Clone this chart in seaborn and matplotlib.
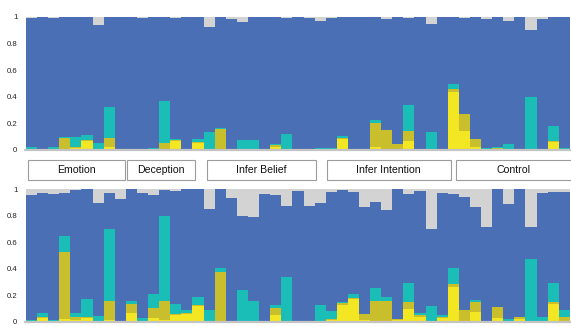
import numpy as np
import matplotlib
matplotlib.use("Agg")
import matplotlib.pyplot as plt
import seaborn as sns
from matplotlib.patches import Rectangle

sns.set_style("white")
plt.rcParams["font.family"] = ["Liberation Sans", "DejaVu Sans"]

# Trial index along the x axis
trials = list(range(49))

# Upper panel: share of each response class per trial
top_yellow = [0, 0, 0, 0.005, 0.017, 0.068, 0, 0.025, 0, 0, 0, 0, 0.005, 0.068, 0.004, 0.055, 0, 0, 0, 0,
              0, 0, 0.025, 0, 0, 0, 0, 0.005, 0.08, 0, 0, 0.025, 0.006, 0, 0.069, 0, 0, 0, 0.438, 0.143,
              0.025, 0, 0.008, 0, 0, 0, 0, 0.062, 0]
top_olive = [0, 0, 0, 0.085, 0.003, 0.007, 0, 0.067, 0, 0, 0, 0.008, 0.048, 0.004, 0.006, 0.005, 0, 0.16, 0, 0,
             0, 0, 0.01, 0, 0, 0, 0, 0.003, 0.012, 0, 0.005, 0.18, 0.144, 0.043, 0.074, 0, 0, 0, 0.02, 0.125,
             0.055, 0, 0.009, 0, 0, 0, 0, 0.006, 0.008]
top_teal = [0.025, 0.003, 0.025, 0.007, 0.075, 0.04, 0.05, 0.228, 0.005, 0.005, 0.005, 0.007, 0.315, 0.008, 0, 0.02,
            0.135, 0.003, 0.005, 0.072, 0.072, 0.003, 0.01, 0.118, 0.003, 0.005, 0.014, 0.006, 0.013, 0, 0, 0.02,
            0, 0, 0.195, 0, 0.133, 0, 0.036, 0, 0, 0.015, 0.005, 0.045, 0, 0.40, 0.005, 0.112, 0.007]
top_gray = [0.012, 0, 0.012, 0, 0, 0, 0.062, 0, 0, 0, 0.012, 0, 0, 0.012, 0, 0, 0.075, 0, 0.02, 0.04,
            0, 0, 0, 0.012, 0, 0.012, 0.03, 0.012, 0, 0, 0, 0, 0.02, 0, 0.012, 0, 0.055, 0, 0, 0.012,
            0, 0.02, 0, 0.03, 0, 0.10, 0.015, 0, 0]

# Lower panel
bot_yellow = [0, 0.03, 0, 0.018, 0.013, 0.03, 0, 0.013, 0, 0.063, 0, 0.03, 0.013, 0.053, 0.06, 0.119, 0, 0, 0, 0,
              0, 0, 0.05, 0, 0, 0, 0, 0.013, 0.126, 0.171, 0.013, 0, 0, 0.01, 0.094, 0.038, 0, 0.025, 0.26, 0,
              0.071, 0, 0.025, 0, 0.018, 0, 0, 0.131, 0]
bot_olive = [0, 0.005, 0, 0.511, 0.025, 0.003, 0, 0.146, 0, 0.068, 0, 0.076, 0.143, 0.003, 0.003, 0.006, 0, 0.378, 0, 0,
             0, 0, 0.051, 0, 0, 0, 0, 0.005, 0.019, 0.01, 0.045, 0.156, 0.156, 0.008, 0.057, 0.012, 0, 0.013, 0.022, 0.088,
             0.075, 0, 0.083, 0, 0.02, 0, 0, 0.02, 0.038]
bot_teal = [0.013, 0.028, 0.013, 0.118, 0.025, 0.141, 0.043, 0.539, 0.006, 0.025, 0.03, 0.101, 0.642, 0.075, 0.025, 0.065,
            0.088, 0.03, 0.003, 0.239, 0.156, 0.005, 0.025, 0.34, 0.004, 0, 0.126, 0.063, 0.006, 0.026, 0, 0.101,
            0.034, 0, 0.139, 0.018, 0.121, 0.012, 0.126, 0, 0.018, 0.006, 0.005, 0.02, 0, 0.476, 0.038, 0.139, 0.05]
bot_gray = [0.043, 0.025, 0.035, 0.025, 0.005, 0, 0.10, 0.03, 0.076, 0, 0.03, 0.043, 0.005, 0.013, 0, 0, 0.151, 0, 0.068, 0.199,
            0.207, 0.035, 0.043, 0.124, 0.01, 0.124, 0.10, 0.018, 0.003, 0.018, 0.131, 0.098, 0.156, 0, 0.038, 0.013, 0.302, 0.03, 0.035, 0.056,
            0.131, 0.282, 0, 0.113, 0, 0.282, 0.03, 0.018, 0.02]

categories = ["Emotion", "Deception", "Infer Belief", "Infer Intention", "Control"]
# Pixel spans (left, right) of the category boxes
category_spans = [(28.5, 124.5), (127, 194.5), (207, 316), (326.5, 450.5), (456, 575)]

ytick_vals = [0, 0.2, 0.4, 0.6, 0.8, 1]
ytick_labels = ["0", "0.2", "0.4", "0.6", "0.8", "1"]

C_YELLOW = "#F3E622"
C_OLIVE = "#C9BE2C"
C_TEAL = "#1BBDB7"
C_BLUE = "#4A6FB5"
C_GRAY = "#D3D3D3"

W, H = 571, 326
fig = plt.figure(figsize=(W / 100, H / 100), dpi=100)


def panel(y_top_px, y_zero_px):
    left = 25 / W
    return fig.add_axes([left, (H - y_zero_px) / H, 1 - left, (y_zero_px - y_top_px) / H])


def draw_stack(ax, yellow, olive, teal, gray):
    yellow = np.array(yellow)
    olive = np.array(olive)
    teal = np.array(teal)
    gray = np.array(gray)
    c1 = yellow
    c2 = c1 + olive
    c3 = c2 + teal
    c4 = 1 - gray  # blue fills up to where the gray share begins
    c5 = np.ones_like(yellow)
    # Tallest cumulative layer first, each next one drawn over it
    for cum, col in [(c5, C_GRAY), (c4, C_BLUE), (c3, C_TEAL), (c2, C_OLIVE), (c1, C_YELLOW)]:
        sns.barplot(x=trials, y=cum, color=col, saturation=1, width=1.0, errorbar=None,
                    linewidth=0, edgecolor="none", ax=ax)
    ax.set_xlim((25 - 31.55) / 11.1, (571 - 31.55) / 11.1)
    ax.set_ylim(0, 1)
    ax.axhline(0, color="#C4C4C4", lw=1.6, zorder=5, clip_on=False)
    ax.set_yticks(ytick_vals)
    ax.set_yticklabels(ytick_labels, fontsize=5.6, color="#222222")
    ax.tick_params(axis="y", length=0, pad=5.5)
    ax.set_xticks([])
    ax.set_xlabel("")
    ax.set_ylabel("")
    for s in ax.spines.values():
        s.set_visible(False)


ax_top = panel(16.7, 150.0)
draw_stack(ax_top, top_yellow, top_olive, top_teal, top_gray)

ax_bot = panel(189.3, 321.7)
draw_stack(ax_bot, bot_yellow, bot_olive, bot_teal, bot_gray)

# Category label boxes between the two panels
box_top, box_bot = 160.5, 179.5
for name, (x0, x1) in zip(categories, category_spans):
    rect = Rectangle((x0 / W, (H - box_bot) / H), (x1 - x0) / W, (box_bot - box_top) / H,
                     transform=fig.transFigure, facecolor="white", edgecolor="#9C9C9C", lw=0.8)
    fig.patches.append(rect)
    xc = (x0 + min(x1, 571)) / 2 if name != "Control" else (x0 + 571.5) / 2
    fig.text(xc / W, (H - (box_top + box_bot) / 2) / H, name, ha="center", va="center",
             fontsize=7.6, color="#111111")

fig.savefig("out.png", dpi=100)
